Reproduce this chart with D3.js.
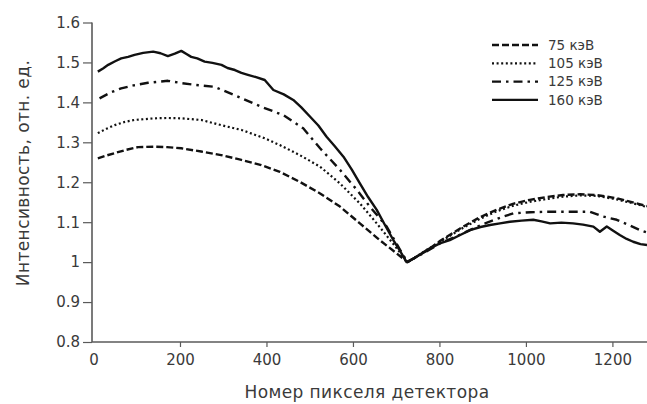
<!DOCTYPE html>
<html><head><meta charset="utf-8">
<script src="https://cdn.jsdelivr.net/npm/d3@7"></script>
<style>
html,body{margin:0;padding:0;background:#fff;}
svg{display:block;}
text{font-family:"DejaVu Sans",sans-serif;fill:#3a3a3a;}
</style></head><body>
<svg id="chart" width="647" height="404"></svg>
<script>
// Tick labels
const xTicks = [0, 200, 400, 600, 800, 1000, 1200];
const yTicks = [0.8, 0.9, 1, 1.1, 1.2, 1.3, 1.4, 1.5, 1.6];
const seriesNames = ["75 кэВ", "105 кэВ", "125 кэВ", "160 кэВ"];

// Series values: [pixel number, relative intensity]
const kv75 = [[10,1.260],[30,1.267],[49,1.273],[75,1.281],[103,1.288],[141,1.289],[170,1.288],[203,1.285],[249,1.277],[295,1.268],[342,1.256],[388,1.243],[431,1.226],[477,1.201],[524,1.172],[570,1.139],[616,1.097],[662,1.055],[701,1.022],[726,1.000],[770,1.028],[800,1.052],[855,1.089],[893,1.112],[932,1.131],[970,1.146],[1009,1.156],[1048,1.163],[1086,1.168],[1125,1.170],[1163,1.168],[1210,1.160],[1256,1.147],[1280,1.140]];
const kv105 = [[10,1.323],[30,1.334],[49,1.343],[72,1.351],[95,1.356],[141,1.360],[170,1.361],[203,1.360],[249,1.356],[295,1.343],[342,1.331],[396,1.310],[431,1.293],[477,1.268],[524,1.239],[570,1.197],[616,1.147],[655,1.097],[693,1.046],[726,1.000],[770,1.030],[800,1.050],[855,1.086],[893,1.108],[932,1.127],[970,1.141],[1009,1.151],[1048,1.158],[1086,1.164],[1125,1.167],[1163,1.166],[1210,1.157],[1256,1.145],[1280,1.138]];
const kv125 = [[14,1.410],[40,1.425],[64,1.435],[95,1.443],[126,1.449],[172,1.454],[205,1.448],[234,1.444],[280,1.439],[326,1.418],[388,1.389],[439,1.368],[485,1.335],[524,1.285],[570,1.231],[609,1.181],[639,1.139],[678,1.089],[709,1.031],[726,1.000],[770,1.027],[800,1.046],[850,1.070],[900,1.095],[950,1.115],[971,1.122],[1010,1.125],[1048,1.126],[1102,1.126],[1148,1.126],[1179,1.114],[1210,1.106],[1240,1.092],[1264,1.080],[1280,1.074]];
const kv160 = [[10,1.477],[22,1.485],[34,1.494],[50,1.503],[64,1.510],[80,1.514],[95,1.519],[115,1.524],[138,1.527],[155,1.523],[172,1.516],[188,1.522],[203,1.529],[215,1.521],[226,1.514],[240,1.510],[257,1.502],[275,1.499],[296,1.494],[310,1.486],[327,1.481],[342,1.474],[357,1.469],[376,1.463],[396,1.456],[416,1.431],[440,1.420],[462,1.406],[480,1.388],[501,1.364],[520,1.342],[539,1.314],[558,1.290],[578,1.264],[597,1.232],[616,1.197],[635,1.163],[655,1.131],[674,1.093],[693,1.056],[710,1.026],[724,1.000],[745,1.012],[770,1.030],[801,1.047],[824,1.055],[848,1.068],[871,1.080],[895,1.088],[917,1.093],[940,1.097],[963,1.101],[990,1.104],[1017,1.106],[1036,1.102],[1056,1.097],[1082,1.099],[1109,1.097],[1132,1.094],[1156,1.089],[1171,1.076],[1187,1.089],[1200,1.080],[1217,1.068],[1233,1.058],[1248,1.051],[1265,1.045],[1280,1.043]];

const allSeries = [kv75, kv105, kv125, kv160];
const dashes = ["7,3", "2,2.6", "9,5,2.5,5", null];

const svg = d3.select("#chart");
const x = d3.scaleLinear().domain([0, 1280]).range([93.5, 647]);
const y = d3.scaleLinear().domain([0.8, 1.6]).range([342, 22.5]);
const axisColor = "#5a5a5a";

// X axis
const gx = svg.append("g").attr("transform", "translate(0,342)")
  .call(d3.axisBottom(x).tickValues(xTicks).tickFormat(d3.format("d")).tickSize(5).tickPadding(7).tickSizeOuter(0));
gx.select(".domain").remove();
gx.selectAll(".tick line").attr("stroke", axisColor).attr("stroke-width", 1.2)
  .filter(d => d === 0).remove();
gx.selectAll("text").attr("font-size", 15).style("fill", "#3a3a3a");
svg.append("line").attr("x1", 92).attr("x2", 647).attr("y1", 342).attr("y2", 342)
  .attr("stroke", axisColor).attr("stroke-width", 1.6);

// Y axis
const gy = svg.append("g").attr("transform", "translate(92,0)")
  .call(d3.axisLeft(y).tickValues(yTicks).tickFormat(d => d === 1 ? "1" : d3.format(".1f")(d)).tickSize(9).tickPadding(3).tickSizeOuter(0));
gy.select(".domain").remove();
gy.selectAll(".tick line").attr("stroke", axisColor).attr("stroke-width", 1.2);
gy.selectAll("text").attr("font-size", 15).style("fill", "#3a3a3a");
svg.append("line").attr("x1", 92).attr("x2", 92).attr("y1", 22.5).attr("y2", 342)
  .attr("stroke", axisColor).attr("stroke-width", 1.6);

// Axis titles
svg.append("text").attr("x", 367).attr("y", 398).attr("text-anchor", "middle")
  .attr("font-size", 17).attr("letter-spacing", "0.4px").text("Номер пикселя детектора");
svg.append("text").attr("transform", "translate(29,173) rotate(-90)").attr("text-anchor", "middle")
  .attr("font-size", 17).attr("letter-spacing", "0.4px").text("Интенсивность, отн. ед.");

// Lines
const line = d3.line().x(d => x(d[0])).y(d => y(d[1]));
allSeries.forEach((s, i) => {
  svg.append("path").datum(s).attr("d", line).attr("fill", "none")
    .attr("stroke", "#111").attr("stroke-width", i === 1 ? 2.2 : 2.4)
    .attr("stroke-linejoin", "round")
    .attr("stroke-dasharray", dashes[i]);
});

// Legend
const lg = svg.append("g");
seriesNames.forEach((n, i) => {
  const yy = 45 + i * 18.3;
  lg.append("line").attr("x1", 492).attr("x2", 538).attr("y1", yy).attr("y2", yy)
    .attr("stroke", "#111").attr("stroke-width", 2.3).attr("stroke-dasharray", dashes[i]);
  lg.append("text").attr("x", 548).attr("y", yy).attr("dy", "0.36em")
    .attr("font-size", 13.5).text(n);
});
</script>
</body></html>
